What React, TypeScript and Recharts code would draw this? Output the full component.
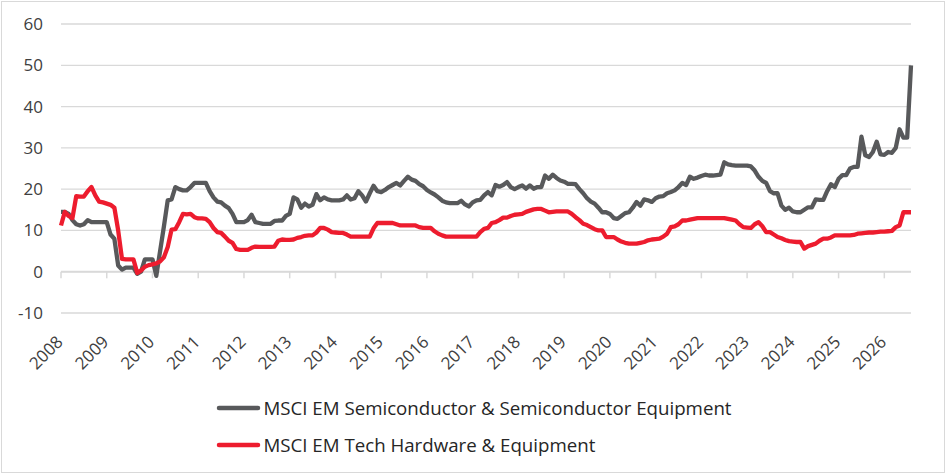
import { LineChart, Line, XAxis, YAxis, CartesianGrid, Legend, ReferenceLine } from 'recharts';

// monthly readings, first value = Jan 2008
const startYear = 2008;

const semis = [
  14.5, 14.5, 14, 12.5, 11.5, 11.2, 11.5, 12.5, 12, 12, 12, 12,
  12, 9, 8, 1.5, 0.5, 1, 1, 1, -0.5, 0, 3, 3,
  3, -1, 5, 11, 17.3, 17.5, 20.5, 20, 19.7, 19.7, 20.5, 21.5,
  21.5, 21.5, 21.5, 19.5, 18, 17, 16.8, 16, 15.4, 14, 12, 12,
  12, 12.5, 13.8, 12, 11.8, 11.6, 11.6, 11.6, 12.3, 12.4, 12.4, 13.5,
  14, 18, 17.5, 15.5, 16.5, 15.8, 16.2, 18.8, 17.3, 18, 17.5, 17.3,
  17.3, 17.3, 17.5, 18.5, 17.5, 17.8, 19.5, 18.5, 17, 19, 20.8, 19.5,
  19.3, 19.8, 20.5, 21, 21.5, 20.9, 22, 23, 22.3, 22, 21.2, 20.7,
  19.8, 19.2, 18.7, 18, 17.2, 16.8, 16.6, 16.6, 16.6, 17.2, 16.3, 15.8,
  16.8, 17.3, 17.4, 18.5, 19.3, 18.5, 21, 20.6, 21, 21.7, 20.5, 20,
  20.5, 20.9, 20.1, 20.9, 20.1, 20.5, 20.5, 23.3, 22.5, 23.5, 22.7, 22.1,
  21.8, 21.3, 21.3, 21.2, 20, 19, 17.8, 17, 16.5, 15.5, 14.4, 14.4,
  14, 13, 12.8, 13.5, 14.2, 14.4, 15.5, 16.9, 16, 17.5, 17.3, 16.9,
  17.8, 18.2, 18.3, 19, 19.3, 19.7, 20.5, 21.5, 21, 23, 22.5, 22.8,
  23.2, 23.5, 23.3, 23.3, 23.4, 23.5, 26.5, 26, 25.8, 25.7, 25.7, 25.7,
  25.7, 25.5, 24.5, 23, 22, 21.5, 19.5, 19, 19, 16, 15, 15.5,
  14.6, 14.4, 14.4, 15, 15.6, 15.6, 17.5, 17.4, 17.4, 19.5, 21.2, 20.5,
  22.5, 23.4, 23.4, 25, 25.4, 25.4, 32.7, 28.2, 27.8, 29, 31.5, 28.4,
  28.3, 29, 28.8, 30, 34.5, 32.5, 32.5, 50,
];

const hardware = [
  11.2, 14.5, 13.5, 13, 18.3, 18.2, 18.2, 19.5, 20.5, 18.5, 17, 16.8,
  16.5, 16.2, 15.5, 10, 3.1, 3, 3, 3, -0.3, 0.3, 1.2, 1.6,
  1.8, 2, 2.5, 3.5, 6, 10.2, 10.3, 12, 14, 13.9, 14, 13.2,
  12.9, 12.9, 12.8, 12, 10.6, 9.6, 9.4, 8.5, 7.5, 7, 5.5, 5.3,
  5.3, 5.3, 5.8, 6.1, 6, 6, 6, 6, 6.1, 7.5, 7.8, 7.7,
  7.7, 7.8, 8.2, 8.4, 8.7, 8.8, 8.8, 9.5, 10.6, 10.6, 10.2, 9.6,
  9.5, 9.4, 9.4, 9, 8.5, 8.5, 8.5, 8.5, 8.5, 8.5, 10.5, 11.8,
  11.8, 11.8, 11.8, 11.8, 11.5, 11.2, 11.2, 11.2, 11.2, 11.2, 10.8, 10.6,
  10.6, 10.6, 9.8, 9.2, 8.8, 8.5, 8.5, 8.5, 8.5, 8.5, 8.5, 8.5,
  8.5, 8.5, 9.6, 10.4, 10.6, 11.8, 12, 12.5, 13.1, 13.1, 13.5, 13.8,
  13.9, 14, 14.5, 14.8, 15.1, 15.2, 15.2, 14.8, 14.4, 14.5, 14.6, 14.6,
  14.6, 14.6, 14, 13.2, 12.5, 11.6, 11.3, 10.8, 10.3, 10, 10, 8.4,
  8.4, 8.4, 7.8, 7.3, 7, 6.8, 6.8, 6.8, 7, 7.2, 7.6, 7.8,
  7.9, 8, 8.5, 9.2, 10.8, 11, 11.5, 12.4, 12.4, 12.6, 12.8, 13,
  13, 13, 13, 13, 13, 13, 13, 12.8, 12.6, 12.4, 11.5, 10.8,
  10.7, 10.6, 11.5, 12, 11, 9.6, 9.6, 9, 8.4, 8.1, 7.7, 7.4,
  7.3, 7.2, 7.2, 5.6, 6.2, 6.5, 6.8, 7.5, 8, 8, 8.3, 8.8,
  8.8, 8.8, 8.8, 8.8, 8.9, 9.2, 9.3, 9.4, 9.5, 9.5, 9.6, 9.7,
  9.7, 9.8, 9.9, 10.8, 11.2, 14.4, 14.4, 14.4,
];

const yearTicks = [
  2008, 2009, 2010, 2011, 2012, 2013, 2014, 2015, 2016, 2017,
  2018, 2019, 2020, 2021, 2022, 2023, 2024, 2025, 2026,
];
const yTicks = [-10, 0, 10, 20, 30, 40, 50, 60];

const series = [
  { key: 'semis', name: 'MSCI EM Semiconductor & Semiconductor Equipment', color: '#58595B' },
  { key: 'hardware', name: 'MSCI EM Tech Hardware & Equipment', color: '#ED1C2E' },
];

const data = semis.map((v, i) => ({ t: startYear + i / 12, semis: v, hardware: hardware[i] }));
const lastT = startYear + (semis.length - 1) / 12;

const FONT = "'Open Sans', sans-serif";
const GRID = '#D9D9D9';
const TEXT = '#404040';

const YearTick = ({ x, y, payload }: any) => (
  <text
    x={x + 3}
    y={y + 28}
    transform={`rotate(-45, ${x + 3}, ${y + 28})`}
    textAnchor="end"
    fontFamily={FONT}
    fontSize={17}
    fill={TEXT}
  >
    {payload.value}
  </text>
);

const renderLegend = () => (
  <div style={{ textAlign: 'center' }}>
    <div style={{ display: 'inline-block', textAlign: 'left', marginLeft: 2 }}>
      {series.map((s) => (
        <div key={s.key} style={{ display: 'flex', alignItems: 'center', height: 37 }}>
          <svg width={46} height={8}>
            <line x1={3} y1={4} x2={42} y2={4} stroke={s.color} strokeWidth={4.5} strokeLinecap="round" />
          </svg>
          <span style={{ marginLeft: 1, fontFamily: FONT, fontSize: 18.7, color: '#262626' }}>{s.name}</span>
        </div>
      ))}
    </div>
  </div>
);

export default function App() {
  return (
    <div style={{ position: 'relative', width: 946, height: 474, background: '#fff' }}>
      <style>{'body{margin:0}'}</style>
      <div
        style={{
          position: 'absolute',
          left: 1,
          top: 1,
          width: 944,
          height: 472,
          boxSizing: 'border-box',
          border: `1.5px solid ${GRID}`,
          pointerEvents: 'none',
        }}
      />
      <LineChart width={946} height={474} data={data} margin={{ top: 24, right: 35, left: 0, bottom: 11 }}>
        <CartesianGrid vertical={false} stroke={GRID} strokeWidth={1.3} />
        <XAxis
          dataKey="t"
          type="number"
          domain={[startYear, lastT]}
          ticks={yearTicks}
          interval={0}
          axisLine={false}
          tickLine={false}
          tickSize={0}
          height={76}
          tick={<YearTick />}
        />
        <YAxis
          domain={[-10, 60]}
          ticks={yTicks}
          width={61}
          axisLine={false}
          tickLine={false}
          tickSize={0}
          tickMargin={18}
          tick={{ fontFamily: FONT, fontSize: 17, fill: TEXT }}
        />
        <ReferenceLine y={0} stroke={GRID} strokeWidth={2} />
        {yearTicks.map((yr) => (
          <ReferenceLine
            key={yr}
            segment={[{ x: yr, y: 0 }, { x: yr, y: -1.6 }]}
            stroke={GRID}
            strokeWidth={1.5}
          />
        ))}
        <Legend layout="vertical" verticalAlign="bottom" align="center" content={renderLegend} />
        {series.map((s) => (
          <Line
            key={s.key}
            type="linear"
            dataKey={s.key}
            name={s.name}
            stroke={s.color}
            strokeWidth={4.3}
            strokeLinejoin="round"
            dot={false}
            isAnimationActive={false}
          />
        ))}
      </LineChart>
    </div>
  );
}
